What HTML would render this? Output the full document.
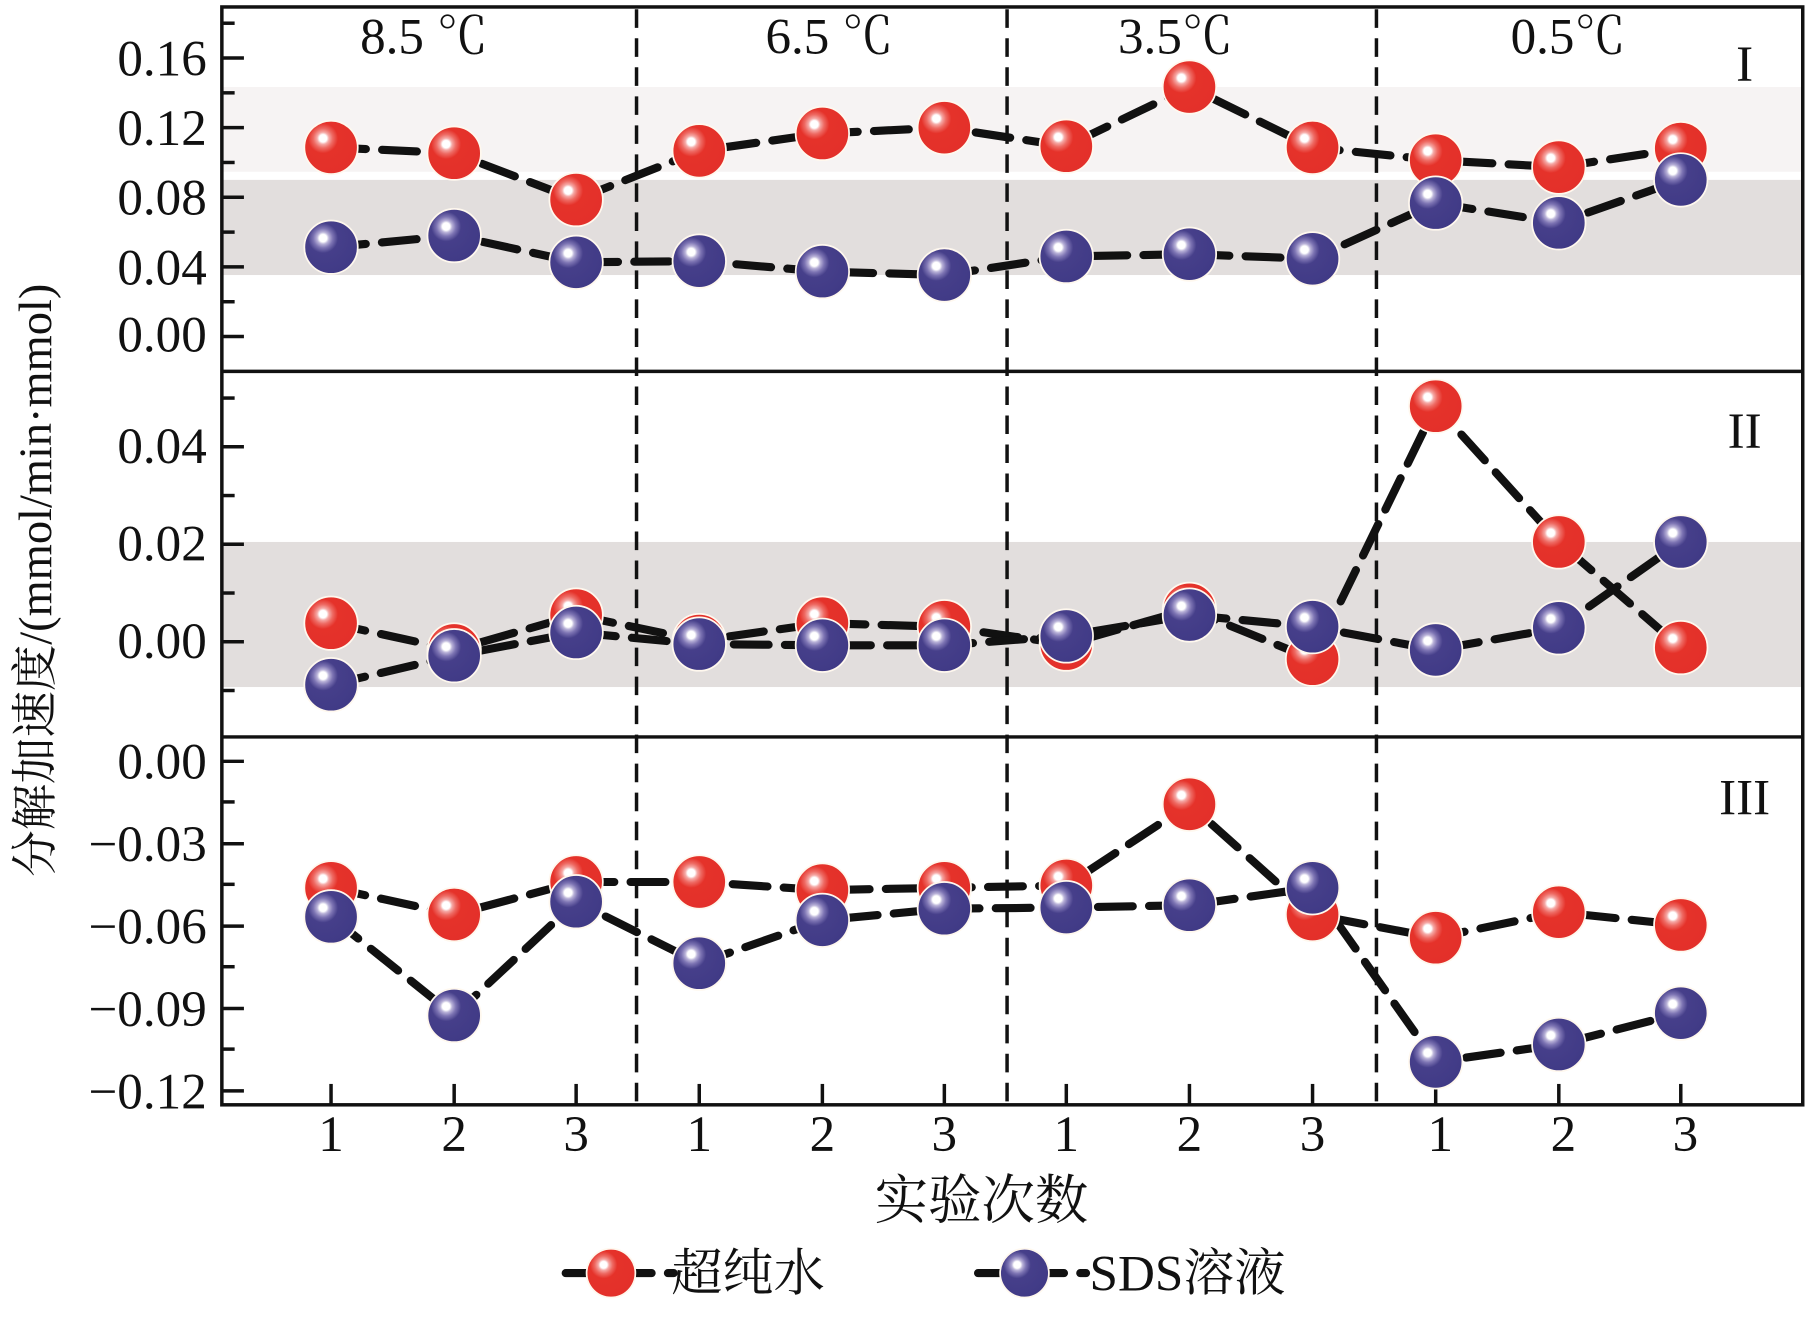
<!DOCTYPE html>
<html><head><meta charset="utf-8"><style>
html,body{margin:0;padding:0;background:#fff;}
svg{display:block;}
text{font-family:"Liberation Serif","Noto Serif CJK SC",serif;fill:#111;}
</style></head><body>
<svg width="1819" height="1323" viewBox="0 0 1566 1140" preserveAspectRatio="none" xmlns="http://www.w3.org/2000/svg">
<defs>
<radialGradient id="rg" cx="0.35" cy="0.33" r="0.7">
<stop offset="0" stop-color="#fff"/><stop offset="0.1" stop-color="#fff"/><stop offset="0.16" stop-color="#f5a9a6"/><stop offset="0.26" stop-color="#ee6a63"/><stop offset="0.4" stop-color="#e5322a"/><stop offset="1" stop-color="#e3302a"/></radialGradient>
<radialGradient id="bg" cx="0.35" cy="0.33" r="0.7">
<stop offset="0" stop-color="#fff"/><stop offset="0.1" stop-color="#fff"/><stop offset="0.16" stop-color="#b9b2d8"/><stop offset="0.26" stop-color="#7d74b3"/><stop offset="0.4" stop-color="#463f8a"/><stop offset="1" stop-color="#403a86"/></radialGradient>
</defs>
<rect x="191" y="75" width="1361" height="73" fill="#f6f3f3"/>
<rect x="191" y="155" width="1361" height="82" fill="#e2dedd"/>
<rect x="191" y="467" width="1361" height="125" fill="#e2dedd"/>
<g stroke="#111" stroke-width="3" stroke-dasharray="16 9">
<line x1="548" y1="8" x2="548" y2="950"/><line x1="867" y1="8" x2="867" y2="950"/><line x1="1185" y1="8" x2="1185" y2="950"/>
</g>
<g fill="none" stroke="#111" stroke-width="3">
<rect x="191" y="6" width="1361" height="946"/>
<line x1="191" y1="320" x2="1552" y2="320"/><line x1="191" y1="635" x2="1552" y2="635"/>
</g>
<g stroke="#111" stroke-width="3">
<line x1="191" y1="290" x2="210" y2="290"/><line x1="191" y1="230" x2="210" y2="230"/><line x1="191" y1="170" x2="210" y2="170"/><line x1="191" y1="110" x2="210" y2="110"/><line x1="191" y1="50" x2="210" y2="50"/>
<line x1="191" y1="260" x2="202" y2="260"/><line x1="191" y1="200" x2="202" y2="200"/><line x1="191" y1="140" x2="202" y2="140"/><line x1="191" y1="80" x2="202" y2="80"/><line x1="191" y1="20" x2="202" y2="20"/>
<line x1="191" y1="553" x2="210" y2="553"/><line x1="191" y1="469" x2="210" y2="469"/><line x1="191" y1="385" x2="210" y2="385"/>
<line x1="191" y1="595" x2="202" y2="595"/><line x1="191" y1="511" x2="202" y2="511"/><line x1="191" y1="427" x2="202" y2="427"/><line x1="191" y1="343" x2="202" y2="343"/>
<line x1="191" y1="656" x2="210" y2="656"/><line x1="191" y1="727" x2="210" y2="727"/><line x1="191" y1="798" x2="210" y2="798"/><line x1="191" y1="869" x2="210" y2="869"/><line x1="191" y1="940" x2="210" y2="940"/>
<line x1="191" y1="691" x2="202" y2="691"/><line x1="191" y1="762" x2="202" y2="762"/><line x1="191" y1="833" x2="202" y2="833"/><line x1="191" y1="904" x2="202" y2="904"/>
<line x1="285" y1="952" x2="285" y2="934"/><line x1="391" y1="952" x2="391" y2="934"/><line x1="496" y1="952" x2="496" y2="934"/><line x1="602" y1="952" x2="602" y2="934"/><line x1="708" y1="952" x2="708" y2="934"/><line x1="813" y1="952" x2="813" y2="934"/><line x1="918" y1="952" x2="918" y2="934"/><line x1="1024" y1="952" x2="1024" y2="934"/><line x1="1130" y1="952" x2="1130" y2="934"/><line x1="1236" y1="952" x2="1236" y2="934"/><line x1="1342" y1="952" x2="1342" y2="934"/><line x1="1447" y1="952" x2="1447" y2="934"/>
</g>
<g font-size="44" text-anchor="end">
<text x="178" y="65">0.16</text><text x="178" y="125">0.12</text><text x="178" y="185">0.08</text><text x="178" y="245">0.04</text><text x="178" y="303">0.00</text>
<text x="178" y="399">0.04</text><text x="178" y="483">0.02</text><text x="178" y="567">0.00</text>
<text x="178" y="671">0.00</text><text x="178" y="742">−0.03</text><text x="178" y="813">−0.06</text><text x="178" y="884">−0.09</text><text x="178" y="955">−0.12</text>
</g>
<g font-size="44" text-anchor="middle">
<text x="285" y="992">1</text><text x="391" y="992">2</text><text x="496" y="992">3</text><text x="602" y="992">1</text><text x="708" y="992">2</text><text x="813" y="992">3</text><text x="918" y="992">1</text><text x="1024" y="992">2</text><text x="1130" y="992">3</text><text x="1240" y="992">1</text><text x="1346" y="992">2</text><text x="1451" y="992">3</text>
<text x="365" y="46">8.5 ℃</text><text x="714" y="46">6.5 ℃</text><text x="1012" y="46">3.5℃</text><text x="1350" y="46">0.5℃</text>
<text x="1502" y="70">I</text><text x="1502" y="386">II</text><text x="1502" y="702">III</text>
<text x="845" y="1050" font-size="46">实验次数</text>
</g>
<text transform="translate(44,500) rotate(-90)" font-size="40" text-anchor="middle">分解加速度/(mmol/min·mmol)</text>
<g fill="none" stroke="#111" stroke-width="7" stroke-dasharray="30 14" stroke-linecap="round">
<polyline points="285,127 391,132 496,172 602,130 708,115 813,110 918,126 1024,75 1130,127 1236,138 1342,144 1447,128"/>
<polyline points="285,213 391,203 496,226 602,225 708,234 813,237 918,221 1024,219 1130,223 1236,175 1342,192 1447,155"/>
<polyline points="285,537 391,560 496,530 602,552 708,537 813,540 918,555 1024,525 1130,568 1236,350 1342,467 1447,558"/>
<polyline points="285,590 391,565 496,545 602,555 708,556 813,556 918,548 1024,530 1130,540 1236,560 1342,541 1447,467"/>
<polyline points="285,765 391,788 496,760 602,760 708,767 813,765 918,763 1024,693 1130,788 1236,808 1342,786 1447,797"/>
<polyline points="285,790 391,875 496,777 602,830 708,793 813,783 918,782 1024,780 1130,765 1236,915 1342,900 1447,873"/>
<line x1="487" y1="1097" x2="580" y2="1097"/><line x1="842" y1="1097" x2="935" y2="1097"/>
</g>
<g stroke="#fff8ee" stroke-width="1.5">
<g fill="url(#rg)">
<circle cx="285" cy="127" r="23"/><circle cx="391" cy="132" r="23"/><circle cx="496" cy="172" r="23"/><circle cx="602" cy="130" r="23"/><circle cx="708" cy="115" r="23"/><circle cx="813" cy="110" r="23"/><circle cx="918" cy="126" r="23"/><circle cx="1024" cy="75" r="23"/><circle cx="1130" cy="127" r="23"/><circle cx="1236" cy="138" r="23"/><circle cx="1342" cy="144" r="23"/><circle cx="1447" cy="128" r="23"/>
</g>
<g fill="url(#bg)">
<circle cx="285" cy="213" r="23"/><circle cx="391" cy="203" r="23"/><circle cx="496" cy="226" r="23"/><circle cx="602" cy="225" r="23"/><circle cx="708" cy="234" r="23"/><circle cx="813" cy="237" r="23"/><circle cx="918" cy="221" r="23"/><circle cx="1024" cy="219" r="23"/><circle cx="1130" cy="223" r="23"/><circle cx="1236" cy="175" r="23"/><circle cx="1342" cy="192" r="23"/><circle cx="1447" cy="155" r="23"/>
</g>
<g fill="url(#rg)">
<circle cx="285" cy="537" r="23"/><circle cx="391" cy="560" r="23"/><circle cx="496" cy="530" r="23"/><circle cx="602" cy="552" r="23"/><circle cx="708" cy="537" r="23"/><circle cx="813" cy="540" r="23"/><circle cx="918" cy="555" r="23"/><circle cx="1024" cy="525" r="23"/><circle cx="1130" cy="568" r="23"/><circle cx="1236" cy="350" r="23"/><circle cx="1342" cy="467" r="23"/><circle cx="1447" cy="558" r="23"/>
</g>
<g fill="url(#bg)">
<circle cx="285" cy="590" r="23"/><circle cx="391" cy="565" r="23"/><circle cx="496" cy="545" r="23"/><circle cx="602" cy="555" r="23"/><circle cx="708" cy="556" r="23"/><circle cx="813" cy="556" r="23"/><circle cx="918" cy="548" r="23"/><circle cx="1024" cy="530" r="23"/><circle cx="1130" cy="540" r="23"/><circle cx="1236" cy="560" r="23"/><circle cx="1342" cy="541" r="23"/><circle cx="1447" cy="467" r="23"/>
</g>
<g fill="url(#rg)">
<circle cx="285" cy="765" r="23"/><circle cx="391" cy="788" r="23"/><circle cx="496" cy="760" r="23"/><circle cx="602" cy="760" r="23"/><circle cx="708" cy="767" r="23"/><circle cx="813" cy="765" r="23"/><circle cx="918" cy="763" r="23"/><circle cx="1024" cy="693" r="23"/><circle cx="1130" cy="788" r="23"/><circle cx="1236" cy="808" r="23"/><circle cx="1342" cy="786" r="23"/><circle cx="1447" cy="797" r="23"/>
</g>
<g fill="url(#bg)">
<circle cx="285" cy="790" r="23"/><circle cx="391" cy="875" r="23"/><circle cx="496" cy="777" r="23"/><circle cx="602" cy="830" r="23"/><circle cx="708" cy="793" r="23"/><circle cx="813" cy="783" r="23"/><circle cx="918" cy="782" r="23"/><circle cx="1024" cy="780" r="23"/><circle cx="1130" cy="765" r="23"/><circle cx="1236" cy="915" r="23"/><circle cx="1342" cy="900" r="23"/><circle cx="1447" cy="873" r="23"/>
</g>
<circle cx="526" cy="1097" r="21" fill="url(#rg)"/><circle cx="882" cy="1097" r="21" fill="url(#bg)"/>
</g>
<text x="578" y="1112" font-size="44">超纯水</text>
<text x="938" y="1112" font-size="44">SDS溶液</text>
</svg>
</body></html>
